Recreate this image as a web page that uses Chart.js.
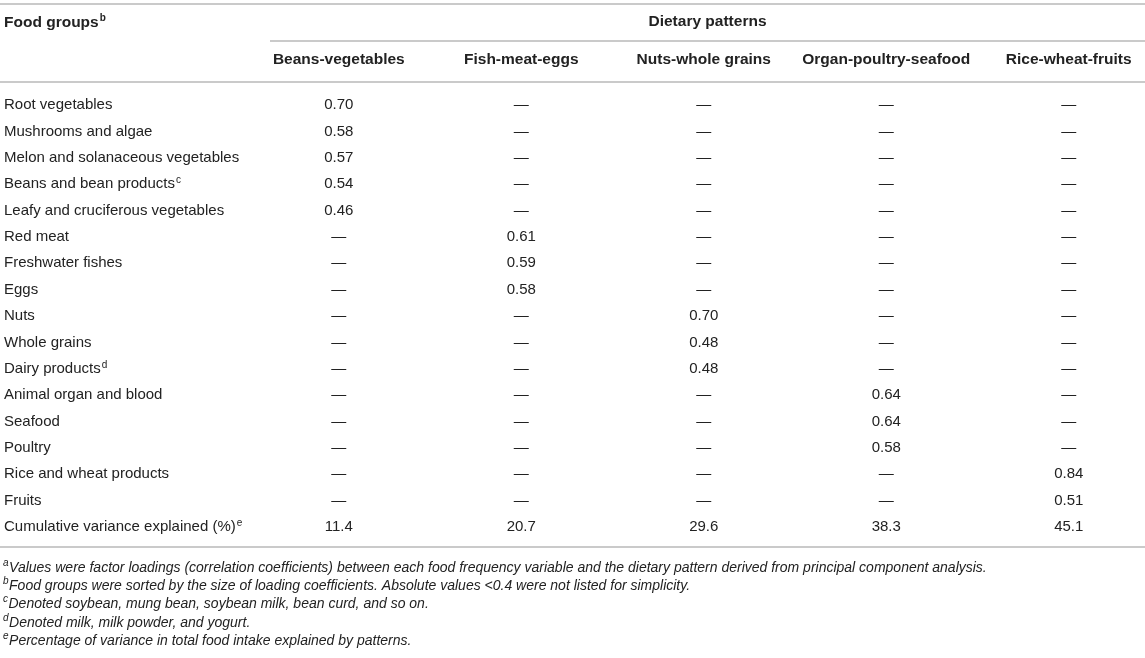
<!DOCTYPE html>
<html>
<head>
<meta charset="utf-8">
<script src="https://cdn.jsdelivr.net/npm/chart.js@4.4.0/dist/chart.umd.min.js"></script>
<style>
    html, body { margin: 0; padding: 0; background: #fff; }
    #wrap { width: 1145px; height: 658px; position: relative; }
</style>
</head>
<body>
<div id="wrap"><canvas id="myTable"></canvas></div>
<script>
let foodGroups = ['Root vegetables', 'Mushrooms and algae', 'Melon and solanaceous vegetables',
    'Beans and bean products', 'Leafy and cruciferous vegetables', 'Red meat', 'Freshwater fishes',
    'Eggs', 'Nuts', 'Whole grains', 'Dairy products', 'Animal organ and blood', 'Seafood',
    'Poultry', 'Rice and wheat products', 'Fruits', 'Cumulative variance explained (%)'];
let foodNotes = ['', '', '', 'c', '', '', '', '', '', '', 'd', '', '', '', '', '', 'e'];
let patterns = ['Beans-vegetables', 'Fish-meat-eggs', 'Nuts-whole grains', 'Organ-poultry-seafood', 'Rice-wheat-fruits'];

// factor loadings, null = not listed (|value| < 0.4)
let beansVegetables = [0.70, 0.58, 0.57, 0.54, 0.46, null, null, null, null, null, null, null, null, null, null, null];
let fishMeatEggs = [null, null, null, null, null, 0.61, 0.59, 0.58, null, null, null, null, null, null, null, null];
let nutsWholeGrains = [null, null, null, null, null, null, null, null, 0.70, 0.48, 0.48, null, null, null, null, null];
let organPoultrySeafood = [null, null, null, null, null, null, null, null, null, null, null, 0.64, 0.64, 0.58, null, null];
let riceWheatFruits = [null, null, null, null, null, null, null, null, null, null, null, null, null, null, 0.84, 0.51];
let cumulativeVariance = [11.4, 20.7, 29.6, 38.3, 45.1];

let footnotes = [
    ['a', 'Values were factor loadings (correlation coefficients) between each food frequency variable and the dietary pattern derived from principal component analysis.'],
    ['b', 'Food groups were sorted by the size of loading coefficients. Absolute values <0.4 were not listed for simplicity.'],
    ['c', 'Denoted soybean, mung bean, soybean milk, bean curd, and so on.'],
    ['d', 'Denoted milk, milk powder, and yogurt.'],
    ['e', 'Percentage of variance in total food intake explained by patterns.']
];

let loadings = [beansVegetables, fishMeatEggs, nutsWholeGrains, organPoultrySeafood, riceWheatFruits];
let fontFamily = '"Liberation Sans", Arial, Helvetica, sans-serif';
let textColor = '#222';
let ruleColor = '#b8b8b8';

let datasets = patterns.map(function (name, c) {
    let points = loadings[c].map(function (v, i) {
        return { x: c, y: i, label: v === null ? '\u2014' : v.toFixed(2) };
    });
    points.push({ x: c, y: foodGroups.length - 1, label: cumulativeVariance[c].toFixed(1) });
    return { label: name, data: points, pointRadius: 0, pointHoverRadius: 0 };
});

function sup(ctx, mark, x, y, font) {
    ctx.save();
    ctx.font = font;
    ctx.textAlign = 'left';
    ctx.textBaseline = 'alphabetic';
    ctx.fillText(mark, x, y);
    let w = ctx.measureText(mark).width;
    ctx.restore();
    return w;
}

let tablePlugin = {
    id: 'tableText',
    afterDraw(chart) {
        let ctx = chart.ctx;
        let area = chart.chartArea;
        let xs = chart.scales.x;
        let ys = chart.scales.y;
        let W = chart.width;

        ctx.save();
        // rules
        ctx.strokeStyle = ruleColor;
        ctx.lineWidth = 1.5;
        [[0, 4], [area.left, 41], [0, area.top], [0, area.bottom]].forEach(function (r) {
            ctx.beginPath();
            ctx.moveTo(r[0], r[1]);
            ctx.lineTo(W, r[1]);
            ctx.stroke();
        });

        ctx.fillStyle = textColor;
        ctx.textBaseline = 'middle';

        // header
        ctx.font = 'bold 15.5px ' + fontFamily;
        ctx.textAlign = 'left';
        ctx.fillText('Food groups', 4, 23);
        let fw = ctx.measureText('Food groups').width;
        sup(ctx, 'b', 4 + fw + 1, 21, 'bold 10px ' + fontFamily);
        ctx.textBaseline = 'middle';
        ctx.textAlign = 'center';
        ctx.fillText('Dietary patterns', (area.left + area.right) / 2, 22);
        patterns.forEach(function (p, c) {
            ctx.fillText(p, xs.getPixelForValue(c), 60);
        });

        // cells
        ctx.font = '15px ' + fontFamily;
        chart.data.datasets.forEach(function (ds, d) {
            let meta = chart.getDatasetMeta(d);
            meta.data.forEach(function (el, i) {
                ctx.fillText(ds.data[i].label, el.x, el.y);
            });
        });

        // superscripts on row labels
        ctx.textAlign = 'left';
        foodGroups.forEach(function (g, i) {
            if (!foodNotes[i]) return;
            ctx.font = '15px ' + fontFamily;
            let w = ctx.measureText(g).width;
            sup(ctx, foodNotes[i], ys.left + w + 1, ys.getPixelForValue(i) - 1, '10px ' + fontFamily);
        });

        // footnotes
        footnotes.forEach(function (f, i) {
            let y = area.bottom + 20 + i * 18.2;
            let mw = sup(ctx, f[0], 3, y - 1, 'italic 10px ' + fontFamily);
            ctx.font = 'italic 14px ' + fontFamily;
            ctx.textAlign = 'left';
            ctx.textBaseline = 'alphabetic';
            ctx.fillText(f[1], 3 + mw + 0.5, y + 5);
        });
        ctx.restore();
    }
};

let myTable = new Chart(document.getElementById('myTable').getContext('2d'), {
    type: 'scatter',
    data: { datasets: datasets },
    options: {
        responsive: true,
        maintainAspectRatio: false,
        animation: false,
        events: [],
        layout: { padding: { left: 4, top: 82, right: 0, bottom: 111 } },
        plugins: { legend: { display: false }, tooltip: { enabled: false } },
        scales: {
            x: {
                type: 'linear', display: false, bounds: 'data',
                min: -0.377, max: 4.418
            },
            y: {
                type: 'linear', reverse: true, bounds: 'data',
                min: -0.872, max: 16.758,
                grid: { display: false },
                border: { display: false },
                afterBuildTicks: function (sc) {
                    sc.ticks = foodGroups.map(function (g, i) { return { value: i }; });
                },
                afterFit: function (sc) { sc.width = 266; },
                ticks: {
                    autoSkip: false,
                    crossAlign: 'far',
                    color: textColor,
                    font: { family: fontFamily, size: 15 },
                    callback: function (v) { return foodGroups[v]; }
                }
            }
        }
    },
    plugins: [tablePlugin]
});
</script>
</body>
</html>
